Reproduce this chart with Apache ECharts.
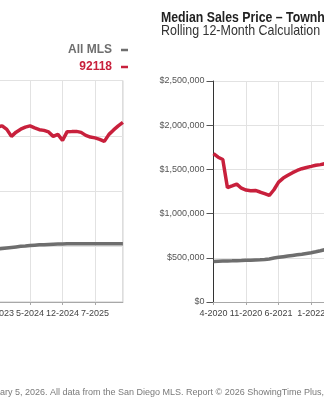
<!DOCTYPE html>
<html>
<head>
<meta charset="utf-8">
<script src="https://cdn.jsdelivr.net/npm/echarts@6/dist/echarts.min.js"></script>
<style>
html,body{margin:0;padding:0;background:#fff;}
#chart{width:324px;height:400px;}
</style>
</head>
<body>
<div id="chart"></div>
<script>
// Single-family chart (left, mostly cropped): months shown in the crop
const sfMonths = ['10-2023','11-2023','12-2023','1-2024','2-2024','3-2024','4-2024','5-2024','6-2024','7-2024','8-2024','9-2024','10-2024','11-2024','12-2024','1-2025','2-2025','3-2025','4-2025','5-2025','6-2025','7-2025','8-2025','9-2025','10-2025','11-2025','12-2025','1-2026'];
const sf92118 = [3162000,3180000,3117000,2991000,3067000,3121000,3157000,3180000,3144000,3112000,3099000,3072000,2991000,3027000,2919000,3076000,3077000,3081000,3063000,3009000,2978000,2964000,2937000,2901000,3027000,3108000,3180000,3243000];
const sfAllMls = [955000,965000,975000,985000,995000,1005000,1013000,1022000,1027000,1032000,1036000,1040000,1044000,1047000,1049000,1050000,1050000,1051000,1050000,1050000,1051000,1050000,1050000,1050000,1051000,1050000,1050000,1050000];

// Townhouse-Condo chart (right, cropped): months shown in the crop
const thMonths = ['4-2020','5-2020','6-2020','7-2020','8-2020','9-2020','10-2020','11-2020','12-2020','1-2021','2-2021','3-2021','4-2021','5-2021','6-2021','7-2021','8-2021','9-2021','10-2021','11-2021','12-2021','1-2022','2-2022','3-2022','4-2022'];
const th92118 = [1678000,1638000,1612000,1293000,1313000,1334000,1287000,1266000,1259000,1262000,1244000,1225000,1205000,1270000,1356000,1402000,1433000,1463000,1488000,1508000,1522000,1534000,1547000,1554000,1565000];
const thAllMls = [459000,461000,463000,465000,466000,468000,469000,471000,473000,475000,477000,480000,487000,497000,506000,513000,520000,527000,534000,541000,549000,557000,568000,580000,593000];

const seriesNames = ['All MLS', '92118'];
const titleText = 'Median Sales Price – Townhouse-Condo';
const subtitleText = 'Rolling 12-Month Calculation';
const footerText = 'Current as of February 5, 2026. All data from the San Diego MLS. Report © 2026 ShowingTime Plus, LLC. All rights reserved.';

const RED = '#c8203c';
const GRAY = '#6e6e6e';
const SANS = "'Liberation Sans',Arial,sans-serif";

const chart = echarts.init(document.getElementById('chart'), null, {renderer:'canvas'});

// footer position: place visible part starting at x=0
const footerFont = 9;
const mc = document.createElement('canvas').getContext('2d');
mc.font = footerFont + 'px ' + SANS;
const footerX = -mc.measureText('Current as of Febru').width;

const money = v => '$' + v.toLocaleString('en-US');

const xAxisCommon = {
  type: 'category',
  boundaryGap: false,
  axisLine: {show: true, lineStyle: {color: '#a8a8a8', width: 1}},
  axisTick: {show: true, interval: 6, length: 3, lineStyle: {color: '#a8a8a8'}},
  axisLabel: {interval: 6, margin: 7, fontSize: 9, color: '#444', fontFamily: SANS, hideOverlap: false},
  splitLine: {show: true, interval: 6, lineStyle: {color: '#e2e2e2', width: 1}}
};

chart.setOption({
  animation: false,
  backgroundColor: '#fff',
  legend: {
    orient: 'vertical', align: 'right', right: 196, top: 43, padding: 0,
    itemWidth: 7, itemHeight: 2.5, itemGap: 3, icon: 'rect',
    selectedMode: false,
    textStyle: {fontFamily: SANS, fontSize: 12, fontWeight: 'bold', lineHeight: 14, padding: [0, 4, 0, 0]},
    data: [
      {name: seriesNames[0], textStyle: {color: GRAY}},
      {name: seriesNames[1], textStyle: {color: RED}}
    ]
  },
  grid: [
    {left: -2.5, top: 80.5, width: 125.4, height: 221.5, outerBoundsMode: 'none', containLabel: false,
     show: true, borderColor: '#c8c8c8', borderWidth: 1, backgroundColor: 'transparent'},
    {left: 213.5, top: 81, width: 111.6, height: 221, outerBoundsMode: 'none', containLabel: false}
  ],
  xAxis: [
    Object.assign({}, xAxisCommon, {gridIndex: 0, data: sfMonths}),
    Object.assign({}, xAxisCommon, {gridIndex: 1, data: thMonths})
  ],
  yAxis: [
    {type: 'value', gridIndex: 0, min: 0, max: 4000000, interval: 1000000,
     axisLine: {show: false}, axisTick: {show: false}, axisLabel: {show: false},
     splitLine: {lineStyle: {color: '#e2e2e2', width: 1}}},
    {type: 'value', gridIndex: 1, min: 0, max: 2500000, interval: 500000,
     axisLine: {show: true, lineStyle: {color: '#333', width: 1}},
     axisTick: {show: true, length: 7, lineStyle: {color: '#555'}},
     axisLabel: {margin: 9, fontSize: 9, color: '#555', fontFamily: SANS, formatter: money},
     splitLine: {lineStyle: {color: '#e2e2e2', width: 1}}}
  ],
  series: [
    {name: seriesNames[0], type: 'line', xAxisIndex: 0, yAxisIndex: 0, data: sfAllMls, showSymbol: false, lineStyle: {color: GRAY, width: 3.5}, itemStyle: {color: GRAY}, z: 3},
    {name: seriesNames[1], type: 'line', xAxisIndex: 0, yAxisIndex: 0, data: sf92118, showSymbol: false, lineStyle: {color: RED, width: 3.5}, itemStyle: {color: RED}, z: 4},
    {name: seriesNames[0], type: 'line', xAxisIndex: 1, yAxisIndex: 1, data: thAllMls, showSymbol: false, lineStyle: {color: GRAY, width: 3.5}, itemStyle: {color: GRAY}, z: 3},
    {name: seriesNames[1], type: 'line', xAxisIndex: 1, yAxisIndex: 1, data: th92118, showSymbol: false, lineStyle: {color: RED, width: 3.5}, itemStyle: {color: RED}, z: 4}
  ],
  graphic: [
    {type: 'text', x: 161, y: 10, scaleX: 0.82, style: {text: titleText, font: 'bold 15px ' + SANS, fill: '#222'}},
    {type: 'text', x: 161, y: 23.5, scaleX: 0.83, style: {text: subtitleText, font: '15px ' + SANS, fill: '#333'}},
    {type: 'text', x: footerX, y: 388, style: {text: footerText, font: footerFont + 'px ' + SANS, fill: '#7a7a7a'}}
  ]
});
</script>
</body>
</html>
